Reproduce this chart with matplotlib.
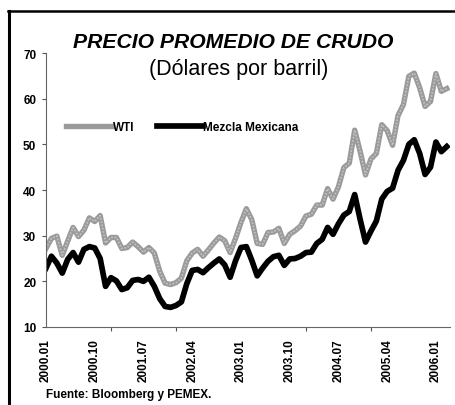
import matplotlib
matplotlib.use("Agg")
import matplotlib.pyplot as plt
from matplotlib.lines import Line2D

plt.rcParams['font.family'] = ['Liberation Sans', 'DejaVu Sans']

# monthly averages, 2000.01 .. 2006.03
wti = [27.2, 29.4, 29.9, 25.7, 28.8, 31.8, 29.8, 31.2, 33.9, 33.1, 34.4, 28.4,
       29.6, 29.6, 27.2, 27.4, 28.6, 27.6, 26.4, 27.4, 26.2, 22.2, 19.6, 19.3,
       19.7, 20.7, 24.5, 26.2, 27.0, 25.5, 26.9, 28.4, 29.7, 28.9, 26.3, 29.4,
       32.9, 35.9, 33.5, 28.3, 28.1, 30.7, 30.8, 31.6, 28.3, 30.3, 31.1, 32.1,
       34.3, 34.7, 36.7, 36.7, 40.3, 38.0, 40.7, 44.9, 45.9, 53.1, 48.5, 43.3,
       46.8, 48.0, 54.3, 53.0, 49.8, 56.3, 58.7, 64.9, 65.6, 62.4, 58.3, 59.4,
       65.5, 61.6, 62.2]
mezcla = [22.9, 25.5, 24.0, 21.8, 24.8, 26.3, 24.2, 27.0, 27.6, 27.3, 25.0, 18.9,
          20.8, 20.1, 18.2, 18.6, 20.2, 20.4, 20.0, 20.9, 18.9, 16.2, 14.5, 14.3,
          14.7, 15.5, 19.5, 22.4, 22.6, 21.9, 23.0, 24.0, 24.9, 23.6, 20.9, 24.5,
          27.4, 27.6, 24.6, 21.2, 22.9, 24.4, 25.4, 25.7, 23.5, 24.9, 25.0, 25.5,
          26.3, 26.4, 28.3, 29.2, 31.8, 30.3, 32.6, 34.5, 35.3, 39.0, 33.6, 28.6,
          31.0, 33.2, 38.0, 39.7, 40.4, 44.3, 46.5, 50.0, 51.0, 48.0, 43.4, 45.0,
          50.5, 48.4, 49.5]
tick_labels = ['2000.01', '2000.10', '2001.07', '2002.04', '2003.01',
               '2003.10', '2004.07', '2005.04', '2006.01']

W, H = 455, 406
fig = plt.figure(figsize=(W / 100, H / 100), dpi=100)
ax = fig.add_axes([46 / W, 1 - 328 / H, (450 - 46) / W, (328 - 54) / H])

x = list(range(len(wti)))
ax.plot(x, wti, color='#9a9a9a', lw=3.9, solid_joinstyle='round')
ax.plot(x, wti, color='#c4c4c4', lw=1.2, ls=(0, (1, 1)))
ax.plot(x, mezcla, color='black', lw=4.1, solid_joinstyle='round')

ax.set_xlim(0, 74.6)
ax.set_ylim(10, 70)
ax.set_yticks(range(10, 71, 10))
ax.set_xticks(range(0, 73, 9))
ax.set_xticklabels(tick_labels, rotation=90)
ax.set_xticks(range(0, 73, 12), minor=True)
ax.tick_params(axis='x', which='major', length=0, pad=8)
ax.tick_params(axis='x', which='minor', length=3, width=0.8, color='#555555')
ax.tick_params(axis='y', length=3, width=0.8, color='#555555', pad=4)
for lab in ax.get_xticklabels() + ax.get_yticklabels():
    lab.set_fontsize(8.5)
    lab.set_fontweight('bold')

for s in ['top', 'right']:
    ax.spines[s].set_visible(False)
for s in ['left', 'bottom']:
    ax.spines[s].set_color('#666666')
    ax.spines[s].set_linewidth(0.8)

handles = [Line2D([], [], color='#9a9a9a', lw=3.9),
           Line2D([], [], color='black', lw=4.1)]
fig.legend(handles, ['WTI', 'Mezcla Mexicana'], loc='center left',
           bbox_to_anchor=(66 / W, 1 - 128 / H), ncol=2, frameon=False,
           handlelength=3.9, handletextpad=0.05, columnspacing=1.9,
           borderpad=0, borderaxespad=0,
           prop={'size': 8.5, 'weight': 'bold'})

fig.text(233 / W, 1 - 43 / H, 'PRECIO PROMEDIO DE CRUDO', ha='center', va='center',
         fontsize=15.2, fontweight='bold', fontstyle='italic')
fig.text(239 / W, 1 - 70 / H, '(Dólares por barril)', ha='center', va='center',
         fontsize=15.5)
fig.text(46 / W, 1 - 395 / H, 'Fuente: Bloomberg y PEMEX.', ha='left', va='center',
         fontsize=8.5, fontweight='bold')

# frame lines (top and left)
fig.add_artist(Line2D([8 / W, 1], [1 - 12 / H, 1 - 12 / H], color='black', lw=1.8))
fig.add_artist(Line2D([9 / W, 9 / W], [0, 1 - 12 / H], color='black', lw=2.2))

fig.savefig('out.png', dpi=100)
